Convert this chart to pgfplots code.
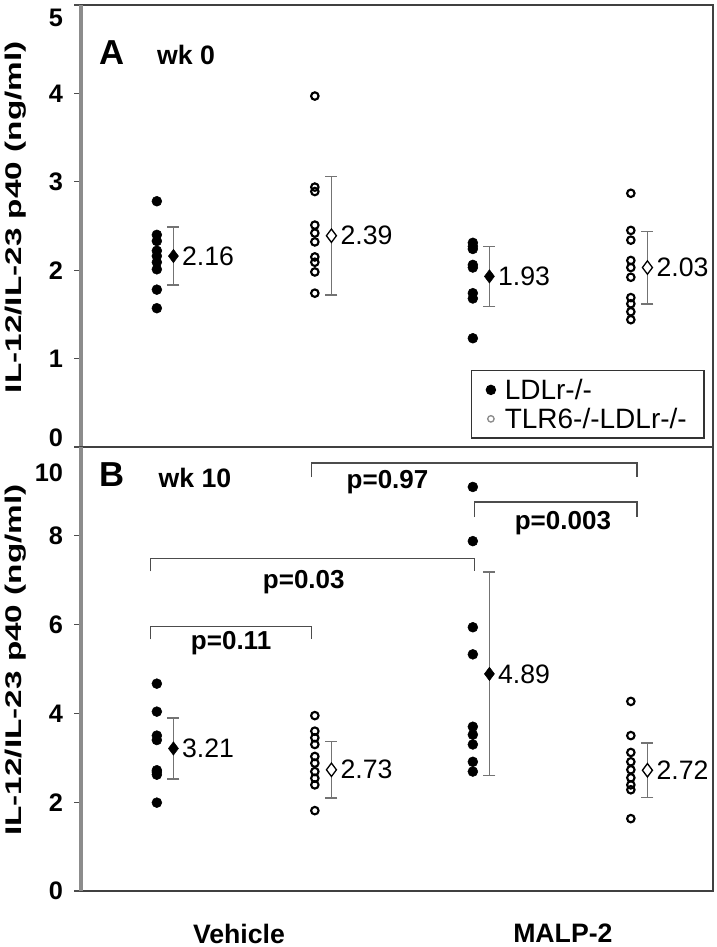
\documentclass[border=0pt]{standalone}
\usepackage{pgfplots}
\pgfplotsset{compat=1.18}
\usepackage{fontspec}
\setmainfont{Liberation Sans}

\newcommand\fs[1]{\fontsize{#1}{#1}\selectfont}

\pgfplotsset{
  panel/.style={
    width=474pt, scale only axis,
    xmin=0.52, xmax=4.52,
    axis line style={black!75, line width=1.3pt},
    ytick pos=left, tick align=outside, major tick length=5pt,
    tick style={black!70, line width=1pt},
    /pgf/number format/assume math mode=true,
    yticklabel style={font=\bfseries\fs{19}, xshift=-5pt},
    ylabel={\scalebox{1.47}[1]{IL-12/IL-23 p40 (ng/ml)}},
    ylabel style={at={(rel axis cs:-0.103,0.52)}, anchor=center, font=\bfseries\fs{17}},
    clip=false,
  },
  dots/.style={only marks, mark=*, black, mark size=3.7pt},
  rings/.style={only marks, mark=o, black, mark size=2.8pt, mark options={line width=1.6pt}},
  means/.style={only marks, black, mark size=5pt, point meta=explicit symbolic,
    nodes near coords,
    every node near coord/.append style={anchor=west, xshift=3pt, font=\fs{20}, black},
    error bars/y dir=both, error bars/y explicit,
    error bars/error bar style={black!55, line width=1.2pt},
    error bars/error mark options={rotate=90, black!55, mark size=4.5pt, line width=1.2pt}},
  br/.style={black!70, line width=1.2pt, no marks, sharp plot},
}

\begin{document}
\begin{tikzpicture}
\useasboundingbox (0,0) rectangle (537.75pt,710.25pt);

% ---------- A: wk 0
\begin{axis}[panel, at={(60.75pt,375pt)}, anchor=south west, height=331.5pt,
  ymin=0, ymax=5, ytick={0,1,2,3,4,5},
  yticklabels={\smash{\raisebox{0pt}{0}},1,2,3,4,\smash{\raisebox{-16.5pt}{5}}},
  xtick=\empty,
  legend style={at={(0.987,0.174)}, anchor=north east, draw=black!80, line width=1pt,
    font=\fs{21}, inner xsep=11pt, inner ysep=4pt, row sep=1pt, cells={anchor=west},
    /tikz/every odd column/.append style={column sep=5pt}},
]
\addlegendimage{only marks, mark=*, black, mark size=3.4pt}
\addlegendentry{LDLr-/-}
\addlegendimage{only marks, mark=o, black!45, mark size=2.4pt, mark options={line width=1pt}}
\addlegendentry{TLR6-/-LDLr-/-}

\addplot[dots, forget plot] coordinates {
  (1,2.78) (1,2.40) (1,2.33) (1,2.22) (1,2.16) (1,2.09) (1,2.01) (1,1.78) (1,1.57)
  (3,2.31) (3,2.27) (3,2.24) (3,2.06) (3,2.03) (3,1.74) (3,1.68) (3,1.23)};
\addplot[rings, forget plot] coordinates {
  (2,3.97) (2,2.94) (2,2.89) (2,2.51) (2,2.42) (2,2.32) (2,2.15) (2,2.09) (2,1.98) (2,1.74)
  (4,2.87) (4,2.45) (4,2.34) (4,2.11) (4,2.03) (4,1.92) (4,1.69) (4,1.62) (4,1.53) (4,1.44)};

\addplot[means, mark=diamond*, forget plot] table[x=x, y=y, y error=e, meta=l] {
x y e l
1.105 2.16 0.33 2.16
3.105 1.93 0.34 1.93
};
\addplot[means, mark=diamond*, mark options={fill=white, line width=1pt}, forget plot] table[x=x, y=y, y error=e, meta=l] {
x y e l
2.105 2.39 0.67 2.39
4.105 2.03 0.41 2.03
};

\node[font=\bfseries\fs{26}] at (axis cs:0.716,4.46) {A};
\node[font=\bfseries\fs{20}, anchor=west, inner sep=0pt] at (axis cs:1.0,4.43) {wk 0};
\draw[black!45, line width=2.4pt] (rel axis cs:0,0) -- (rel axis cs:0,1);
\end{axis}

% ---------- B: wk 10
\begin{axis}[panel, at={(60.75pt,42pt)}, anchor=south west, height=333pt,
  ymin=0, ymax=10, ytick={0,2,4,6,8,10},
  yticklabels={0,2,4,6,8,\smash{\raisebox{-26pt}{10}}},
  xtick={1.52,3.57}, xticklabels={Vehicle,MALP-2},
  xtick style={draw=none},
  xticklabel style={font=\bfseries\fs{20}, yshift=-16pt},
]
\addplot[dots] coordinates {
  (1,4.67) (1,4.04) (1,3.50) (1,3.40) (1,2.72) (1,2.68) (1,2.62) (1,1.99)
  (3,9.10) (3,7.88) (3,5.94) (3,5.33) (3,3.70) (3,3.52) (3,3.30) (3,2.91) (3,2.69)};
\addplot[rings] coordinates {
  (2,3.95) (2,3.60) (2,3.45) (2,3.30) (2,3.03) (2,2.88) (2,2.69) (2,2.54) (2,2.39) (2,1.81)
  (4,4.27) (4,3.50) (4,3.12) (4,2.91) (4,2.73) (4,2.55) (4,2.39) (4,2.28) (4,1.63)};

\addplot[means, mark=diamond*] table[x=x, y=y, y error=e, meta=l] {
x y e l
1.105 3.21 0.69 3.21
3.105 4.89 2.29 4.89
};
\addplot[means, mark=diamond*, mark options={fill=white, line width=1pt}] table[x=x, y=y, y error=e, meta=l] {
x y e l
2.105 2.73 0.64 2.73
4.105 2.72 0.61 2.72
};

% comparison brackets
\addplot[br] coordinates {(1.98,9.32) (1.98,9.64) (4.04,9.64) (4.04,9.32)};
\addplot[br] coordinates {(3.01,8.42) (3.01,8.76) (4.04,8.76) (4.04,8.42)};
\addplot[br] coordinates {(0.96,7.20) (0.96,7.49) (3.01,7.49) (3.01,7.20)};
\addplot[br] coordinates {(0.96,5.67) (0.96,5.96) (1.98,5.96) (1.98,5.67)};
\node[font=\bfseries\fs{19.5}] at (axis cs:2.46,9.21) {p=0.97};
\node[font=\bfseries\fs{19.5}] at (axis cs:3.57,8.28) {p=0.003};
\node[font=\bfseries\fs{19.5}] at (axis cs:1.93,6.95) {p=0.03};
\node[font=\bfseries\fs{19.5}] at (axis cs:1.47,5.58) {p=0.11};

\node[font=\bfseries\fs{26}] at (axis cs:0.716,9.37) {B};
\node[font=\bfseries\fs{20}, anchor=west, inner sep=0pt] at (axis cs:1.01,9.30) {wk 10};
\draw[black!45, line width=2.4pt] (rel axis cs:0,0) -- (rel axis cs:0,1);
\end{axis}
\end{tikzpicture}
\end{document}
